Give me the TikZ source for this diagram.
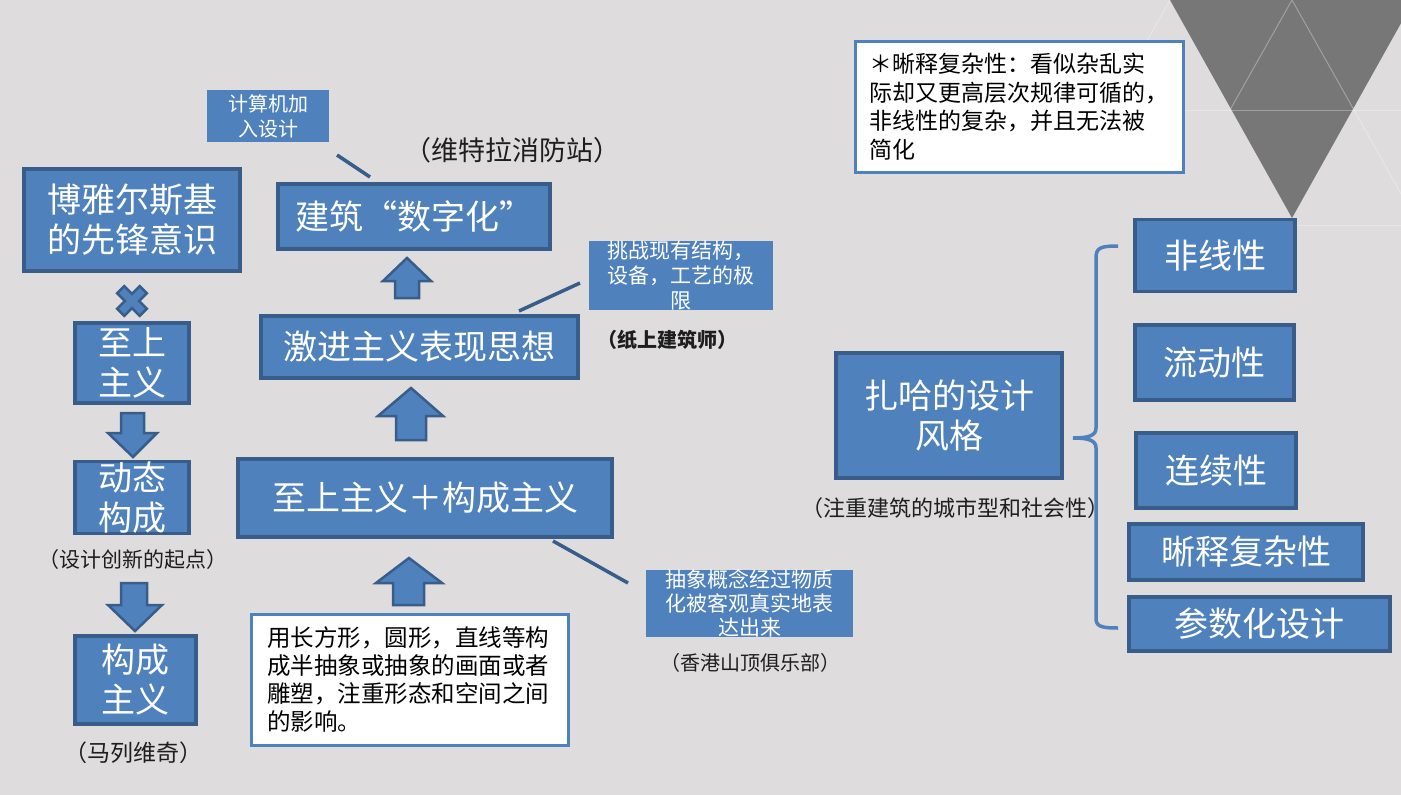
\documentclass[tikz,border=0pt]{standalone}
\usepackage{fontspec}
\setmainfont{Noto Sans CJK SC}
\definecolor{bgc}{RGB}{222,220,221}
\definecolor{tri}{RGB}{119,119,119}
\definecolor{blu}{RGB}{79,129,189}
\definecolor{bdr}{RGB}{56,93,138}
\definecolor{txt}{RGB}{30,30,30}
\begin{document}
\begin{tikzpicture}[x=1pt,y=-1pt,
  box/.style={draw=bdr, fill=blu, line width=3.3pt, text=white, inner sep=0pt, align=center, font=\fontsize{34}{40}\selectfont},
  sbox/.style={fill=blu, text=white, inner sep=0pt, align=center, font=\fontsize{21}{25}\selectfont},
  wbox/.style={draw=blu, fill=white, line width=3pt, inner ysep=0pt, align=left, text=black, font=\fontsize{23.5}{28}\selectfont},
  lbl/.style={text=txt, inner sep=0pt, font=\fontsize{20}{24}\selectfont},
  conn/.style={draw=bdr, line width=3.5pt},
  barr/.style={draw=bdr, fill=blu, line width=2.5pt, line join=miter},
  faint/.style={draw=white, opacity=0.3, line width=1pt},
  brc/.style={draw=blu, line width=3.5pt}
]
\fill[bgc] (0,0) rectangle (1401,795);
\useasboundingbox (0,0) rectangle (1401,795);
\begin{scope}
\clip (0,0) rectangle (1401,795);
\fill[tri] (1170,0) -- (1414,0) -- (1292,218) -- cycle;
\draw[faint] (1230,110) -- (1292,0) -- (1354,110);
\draw[faint] (1100,110) -- (1401,110);
\draw[faint] (1354,110) -- (1401,194);
\draw[faint] (1170,0) -- (1108,110);
\draw[faint] (1292,225) -- (1401,225);
\end{scope}

% left column
\node[box, minimum width=216pt, minimum height=102pt] (bya) at (132,220) {博雅尔斯基\\的先锋意识};
\begin{scope}[shift={(132,301)}, rotate=45]
\draw[barr] (5,16) -- (5,5) -- (16,5) -- (16,-5) -- (5,-5) -- (5,-16) -- (-5,-16) -- (-5,-5) -- (-16,-5) -- (-16,5) -- (-5,5) -- (-5,16) -- cycle;
\end{scope}
\node[box, minimum width=114pt, minimum height=80pt] (zsz) at (132,363) {至上\\主义};
\draw[barr] (121,413) -- (144,413) -- (144,433) -- (157,433) -- (133,457) -- (108,433) -- (121,433) -- cycle;
\node[box, minimum width=114pt, minimum height=69pt] (dtgc) at (132,497.5) {动态\\构成};
\node[lbl, font=\fontsize{21}{24}\selectfont] (l1) at (133,560) {（设计创新的起点）};
\draw[barr] (121,583) -- (147,583) -- (147,605) -- (162,605) -- (135,631) -- (108,605) -- (121,605) -- cycle;
\node[box, minimum width=121pt, minimum height=88pt] (gczy) at (135.5,680) {构成\\主义};
\node[lbl, font=\fontsize{23}{26}\selectfont] (l2) at (133,753) {（马列维奇）};

% middle column
\node[sbox, font=\fontsize{20}{25}\selectfont, minimum width=122pt, minimum height=52pt] (jsj) at (268,116) {计算机加\\入设计};
\coordinate (c1a) at (337,155);
\coordinate (c1b) at (370,177);
\draw[conn] (c1a) -- (c1b);
\node[lbl, font=\fontsize{27}{30}\selectfont] (l3) at (512,150) {（维特拉消防站）};
\node[box, minimum width=272pt, minimum height=65pt] (jz) at (414,216.5) {建筑“数字化”};
\draw[barr] (407,258) -- (431,281) -- (419,281) -- (419,298) -- (395,298) -- (395,281) -- (383,281) -- cycle;

\node[sbox, minimum width=184pt, minimum height=57pt] (tz) at (681,275.5) {挑战现有结构，\\设备，工艺的极\\限};
\coordinate (c2a) at (519,311);
\coordinate (c2b) at (580,283);
\draw[conn] (c2a) -- (c2b);
\node[lbl, font=\bfseries\fontsize{20}{24}\selectfont] (l4) at (667,340) {（纸上建筑师）};
\node[box, minimum width=317pt, minimum height=62pt] (jj) at (419.5,347) {激进主义表现思想};
\draw[barr] (411,388) -- (443,416) -- (426,416) -- (426,440) -- (396,440) -- (396,416) -- (378,416) -- cycle;

\node[box, minimum width=374pt, minimum height=78pt] (zsgc) at (425,498) {至上主义＋构成主义};
\draw[barr] (409,558) -- (442,583) -- (424,583) -- (424,605) -- (393,605) -- (393,583) -- (376,583) -- cycle;
\node[wbox, minimum height=131pt, text width=285pt, inner xsep=16pt] (yc) at (409.5,679.5) {用长方形，圆形，直线等构\\成半抽象或抽象的画面或者\\雕塑，注重形态和空间之间\\的影响。};

\coordinate (c3a) at (553,541);
\coordinate (c3b) at (628,583);
\draw[conn] (c3a) -- (c3b);
\node[sbox, font=\fontsize{21}{24}\selectfont, minimum width=207pt, minimum height=67pt] (cx) at (749.5,603.5) {抽象概念经过物质\\化被客观真实地表\\达出来};
\node[lbl] (l5) at (750,663) {（香港山顶俱乐部）};

% right part
\node[wbox, font=\fontsize{23}{28.5}\selectfont, minimum height=131pt, text width=300pt, inner xsep=14pt] (note) at (1019,106.5) {＊晰释复杂性：看似杂乱实\\际却又更高层次规律可循的，\\非线性的复杂，并且无法被\\简化};
\node[box, minimum width=226pt, minimum height=125pt] (zh) at (949,415.5) {扎哈的设计\\风格};
\node[lbl, font=\fontsize{22}{24}\selectfont] (l6) at (955,508) {（注重建筑的城市型和社会性）};

\draw[brc] (1118,246) .. controls (1100,246) and (1096,248) .. (1096,258) -- (1096,428) .. controls (1096,435) and (1090,438) .. (1073,438) .. controls (1090,438) and (1096,441) .. (1096,448) -- (1096,618) .. controls (1096,626) and (1100,628) .. (1118,628);

\node[box, minimum width=160pt, minimum height=72pt] (f1) at (1215,255.5) {非线性};
\node[box, minimum width=159pt, minimum height=75pt] (f2) at (1214.5,362.5) {流动性};
\node[box, minimum width=160pt, minimum height=75pt] (f3) at (1216,470.5) {连续性};
\node[box, minimum width=234pt, minimum height=56pt] (f4) at (1246,552) {晰释复杂性};
\node[box, minimum width=261pt, minimum height=54pt] (f5) at (1259.5,624) {参数化设计};
\end{tikzpicture}
\end{document}
